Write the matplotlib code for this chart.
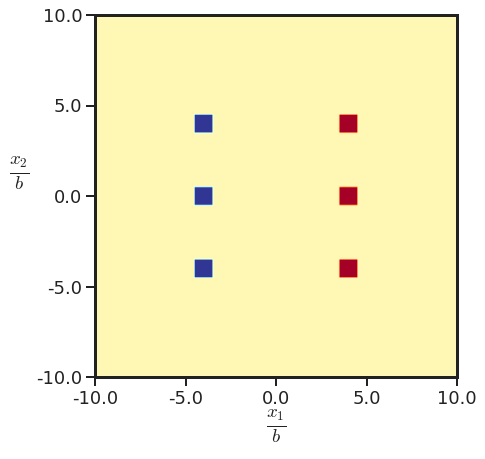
import numpy as np
import matplotlib
matplotlib.use('Agg')
import matplotlib.pyplot as plt
import seaborn as sns

sns.set_theme(context='talk', style='ticks')
plt.rcParams['mathtext.fontset'] = 'cm'
plt.rcParams['font.family'] = ['DejaVu Sans']

# point positions (x1/b, x2/b) and their class values
centers_x = [-4.0, -4.0, -4.0, 4.0, 4.0, 4.0]
centers_y = [4.0, 0.0, -4.0, 4.0, 0.0, -4.0]
classes = [1.0, 1.0, 1.0, -1.0, -1.0, -1.0]
background = -0.04
half_size = 0.5
lim = 10.0
ticks = [-10.0, -5.0, 0.0, 5.0, 10.0]

# field on a grid
n = 200
xs = np.linspace(-lim, lim, n)
X, Y = np.meshgrid(xs, xs)
field = np.full_like(X, background)
for cx, cy, c in zip(centers_x, centers_y, classes):
    mask = (np.abs(X - cx) <= half_size) & (np.abs(Y - cy) <= half_size)
    field[mask] = c

fig = plt.figure(figsize=(485 / 72, 459 / 72), dpi=72)
ax = fig.add_axes([95 / 485, 1 - 377 / 459, 362 / 485, 362 / 459])
ax.imshow(field, origin='lower', extent=[-lim, lim, -lim, lim],
          cmap='RdYlBu', vmin=-1, vmax=1, interpolation='bilinear',
          interpolation_stage='data')
ax.set_xlim(-lim, lim)
ax.set_ylim(-lim, lim)
ax.set_xticks(ticks)
ax.set_yticks(ticks)
ax.set_xticklabels(['%.1f' % t for t in ticks])
ax.set_yticklabels(['%.1f' % t for t in ticks])
ax.tick_params(width=2, length=9, labelsize=18, color='#222222',
               labelcolor='#222222')
for sp in ax.spines.values():
    sp.set_linewidth(3)
    sp.set_color('#222222')

ax.set_xlabel(r'$\frac{x_1}{b}$', fontsize=27, labelpad=0, color='#222222')
ax.set_ylabel(r'$\frac{x_2}{b}$', fontsize=27, rotation=0, color='#222222')
ax.yaxis.set_label_coords(-0.21, 0.51)
ax.yaxis.label.set_verticalalignment('bottom')

fig.savefig('out.png', dpi=72)
